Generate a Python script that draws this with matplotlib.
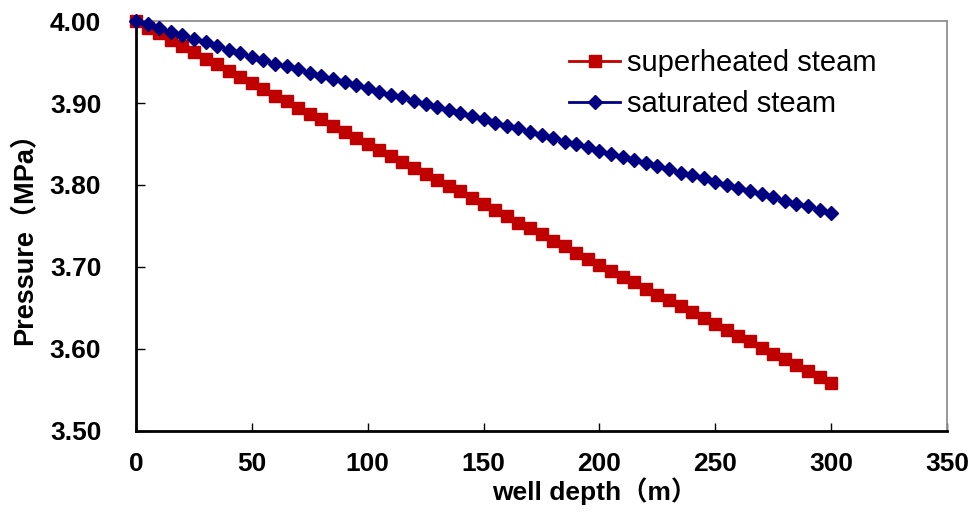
import matplotlib
matplotlib.use('Agg')
import matplotlib.pyplot as plt

plt.rcParams['font.family'] = ['Liberation Sans', 'Noto Sans CJK SC', 'DejaVu Sans']

# well depth (m) and pressure (MPa)
depth = [0, 5, 10, 15, 20, 25, 30, 35, 40, 45, 50,
         55, 60, 65, 70, 75, 80, 85, 90, 95, 100,
         105, 110, 115, 120, 125, 130, 135, 140, 145, 150,
         155, 160, 165, 170, 175, 180, 185, 190, 195, 200,
         205, 210, 215, 220, 225, 230, 235, 240, 245, 250,
         255, 260, 265, 270, 275, 280, 285, 290, 295, 300]

superheated = [4.000, 3.992, 3.985, 3.977, 3.970, 3.962, 3.954, 3.947, 3.939, 3.932, 3.924,
               3.917, 3.909, 3.902, 3.894, 3.887, 3.880, 3.872, 3.865, 3.857, 3.850,
               3.843, 3.835, 3.828, 3.821, 3.813, 3.806, 3.799, 3.792, 3.784, 3.777,
               3.769, 3.762, 3.754, 3.747, 3.740, 3.732, 3.725, 3.717, 3.710, 3.702,
               3.695, 3.688, 3.681, 3.673, 3.666, 3.659, 3.652, 3.645, 3.637, 3.630,
               3.623, 3.616, 3.609, 3.601, 3.594, 3.587, 3.580, 3.573, 3.565, 3.558]

saturated = [4.000, 3.996, 3.991, 3.987, 3.983, 3.978, 3.974, 3.970, 3.965, 3.961, 3.956,
             3.952, 3.948, 3.945, 3.941, 3.937, 3.933, 3.929, 3.926, 3.922, 3.918,
             3.914, 3.910, 3.907, 3.903, 3.899, 3.895, 3.891, 3.888, 3.884, 3.880,
             3.876, 3.872, 3.869, 3.865, 3.861, 3.857, 3.853, 3.850, 3.846, 3.842,
             3.838, 3.834, 3.831, 3.827, 3.823, 3.819, 3.815, 3.812, 3.808, 3.804,
             3.800, 3.796, 3.793, 3.789, 3.785, 3.781, 3.777, 3.774, 3.770, 3.766]

x_ticks = [0, 50, 100, 150, 200, 250, 300, 350]
y_ticks = [3.50, 3.60, 3.70, 3.80, 3.90, 4.00]

fig = plt.figure(figsize=(9.77, 5.14), dpi=100)
ax = fig.add_axes([0.1392, 0.162, 0.8301, 0.797])

ax.plot(depth, superheated, color='#C00000', marker='s', markersize=8.4, linewidth=2,
        label='superheated steam', clip_on=False, zorder=3)
ax.plot(depth, saturated, color='#000080', marker='D', markersize=7.2, linewidth=2,
        label='saturated steam', clip_on=False, zorder=4)

ax.set_xlim(0, 350)
ax.set_ylim(3.50, 4.00)
ax.set_xticks(x_ticks)
ax.set_yticks(y_ticks)
ax.set_xticklabels([str(v) for v in x_ticks])
ax.set_yticklabels(['{:.2f}'.format(v) for v in y_ticks])

for side in ['left', 'bottom']:
    ax.spines[side].set_color('black')
    ax.spines[side].set_linewidth(2)
for side in ['top', 'right']:
    ax.spines[side].set_color('#909090')
    ax.spines[side].set_linewidth(1.3)

ax.tick_params(axis='x', direction='in', length=5.5, width=1, pad=15, labelsize=19)
ax.tick_params(axis='y', direction='in', length=6.5, width=1, pad=25, labelsize=19)
for lbl in ax.get_xticklabels() + ax.get_yticklabels():
    lbl.set_fontweight('bold')

ax.set_xlabel('well depth（m）', fontsize=19, fontweight='bold')
ax.xaxis.label.set_va('center')
ax.xaxis.set_label_coords(0.565, -0.148)

ax.set_ylabel('Pressure（MPa）', fontsize=19.5, fontweight='bold')
ax.yaxis.label.set_va('center')
ax.yaxis.set_label_coords(-0.138, 0.484)

ax.legend(loc='center left', bbox_to_anchor=(0.534, 0.8475), frameon=False,
          fontsize=21, handlelength=1.75, handletextpad=0.25, labelspacing=0.45,
          borderpad=0, borderaxespad=0)

fig.savefig('out.png', dpi=100)
